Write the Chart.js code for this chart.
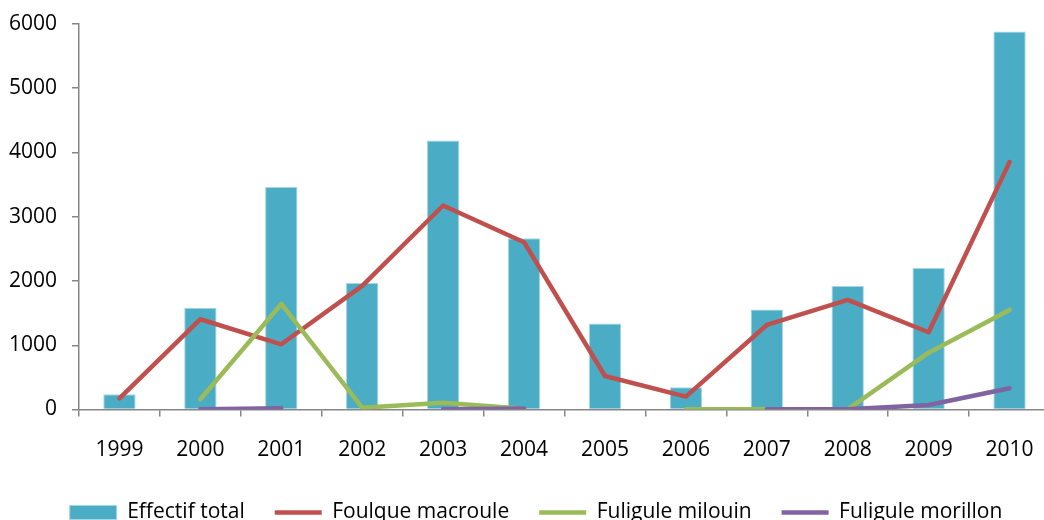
<!DOCTYPE html>
<html>
<head>
<meta charset="utf-8">
<title>Effectifs 1999-2010</title>
<script src="https://cdn.jsdelivr.net/npm/chart.js@4.4.1/dist/chart.umd.min.js"></script>
<style>
  html, body { margin: 0; padding: 0; background: #fff; overflow: hidden; }
  #wrap { width: 1044px; height: 520px; overflow: hidden; }
  canvas { display: block; }
</style>
</head>
<body>
<div id="wrap"><canvas id="chart" width="1060" height="533"></canvas></div>
<script>
// Years on the x axis
const years = ['1999', '2000', '2001', '2002', '2003', '2004', '2005', '2006', '2007', '2008', '2009', '2010'];

// Counts per year (null = no count)
const effectifTotal = [237, 1585, 3462, 1970, 4187, 2665, 1337, 346, 1555, 1924, 2204, 5885];
const foulqueMacroule = [174, 1405, 1015, 1925, 3175, 2604, 522, 200, 1316, 1706, 1202, 3850];
const fuligMilouin = [null, 159, 1643, 28, 106, 12, null, 5, 3, 3, 885, 1550];
const fuligMorillon = [null, 5, 20, null, 3, 15, null, null, 3, 3, 70, 330];

// Y axis range
const yMin = 0;
const yMax = 6000;
const yStep = 1000;

const axisGrey = '#868686';

Chart.defaults.font.family = '"Open Sans", sans-serif';
Chart.defaults.font.size = 21;
Chart.defaults.color = '#000';

// nudge the legend a little to the right of the canvas centre
const legendShift = {
  id: 'legendShift',
  afterLayout(chart) {
    const lg = chart.legend;
    if (lg) {
      lg.left += 11;
      lg.right += 11;
    }
  }
};

const ctx = document.getElementById('chart').getContext('2d');

new Chart(ctx, {
  type: 'bar',
  data: {
    labels: years,
    datasets: [
      {
        label: 'Effectif total',
        data: effectifTotal,
        backgroundColor: '#4BACC6',
        borderColor: '#A9D6E3',
        borderWidth: 1,
        barPercentage: 0.4,
        categoryPercentage: 1,
        pointStyle: 'rect',
        order: 4
      },
      {
        type: 'line',
        label: 'Foulque macroule',
        data: foulqueMacroule,
        borderColor: '#C0504D',
        backgroundColor: '#C0504D',
        borderWidth: 4.5,
        borderCapStyle: 'round',
        borderJoinStyle: 'round',
        pointRadius: 0,
        pointStyle: 'line',
        tension: 0,
        order: 3
      },
      {
        type: 'line',
        label: 'Fuligule milouin',
        data: fuligMilouin,
        borderColor: '#9BBB59',
        backgroundColor: '#9BBB59',
        borderWidth: 4.5,
        borderCapStyle: 'round',
        borderJoinStyle: 'round',
        pointRadius: 0,
        pointStyle: 'line',
        tension: 0,
        order: 2
      },
      {
        type: 'line',
        label: 'Fuligule morillon',
        data: fuligMorillon,
        borderColor: '#8064A2',
        backgroundColor: '#8064A2',
        borderWidth: 4.5,
        borderCapStyle: 'round',
        borderJoinStyle: 'round',
        pointRadius: 0,
        pointStyle: 'line',
        tension: 0,
        order: 1
      }
    ]
  },
  options: {
    responsive: false,
    devicePixelRatio: 1,
    animation: false,
    layout: {
      padding: { top: 24, right: 10, bottom: 0, left: 0 }
    },
    plugins: {
      tooltip: { enabled: false },
      legend: {
        position: 'bottom',
        labels: {
          usePointStyle: true,
          pointStyleWidth: 47,
          boxHeight: 14,
          padding: 30,
          color: '#000',
          font: { size: 21 },
          sort: (a, b) => a.datasetIndex - b.datasetIndex
        }
      }
    },
    scales: {
      x: {
        offset: true,
        afterFit: (scale) => { scale.height = 62.5; },
        grid: {
          offset: true,
          drawOnChartArea: false,
          drawTicks: true,
          tickLength: 7,
          color: axisGrey,
          lineWidth: 1.5
        },
        border: { display: true, color: axisGrey, width: 1.5 },
        ticks: { padding: 21, maxRotation: 0, autoSkip: false }
      },
      y: {
        min: yMin,
        max: yMax,
        afterFit: (scale) => {
          scale.width = 79;
          scale.paddingTop = 0;
          scale.paddingBottom = 0;
        },
        grid: {
          drawOnChartArea: false,
          drawTicks: true,
          tickLength: 7,
          color: axisGrey,
          lineWidth: 1.5
        },
        border: { display: true, color: axisGrey, width: 1.5 },
        ticks: {
          stepSize: yStep,
          padding: 15,
          callback: (value) => String(value)
        }
      }
    }
  },
  plugins: [legendShift]
});
</script>
</body>
</html>
